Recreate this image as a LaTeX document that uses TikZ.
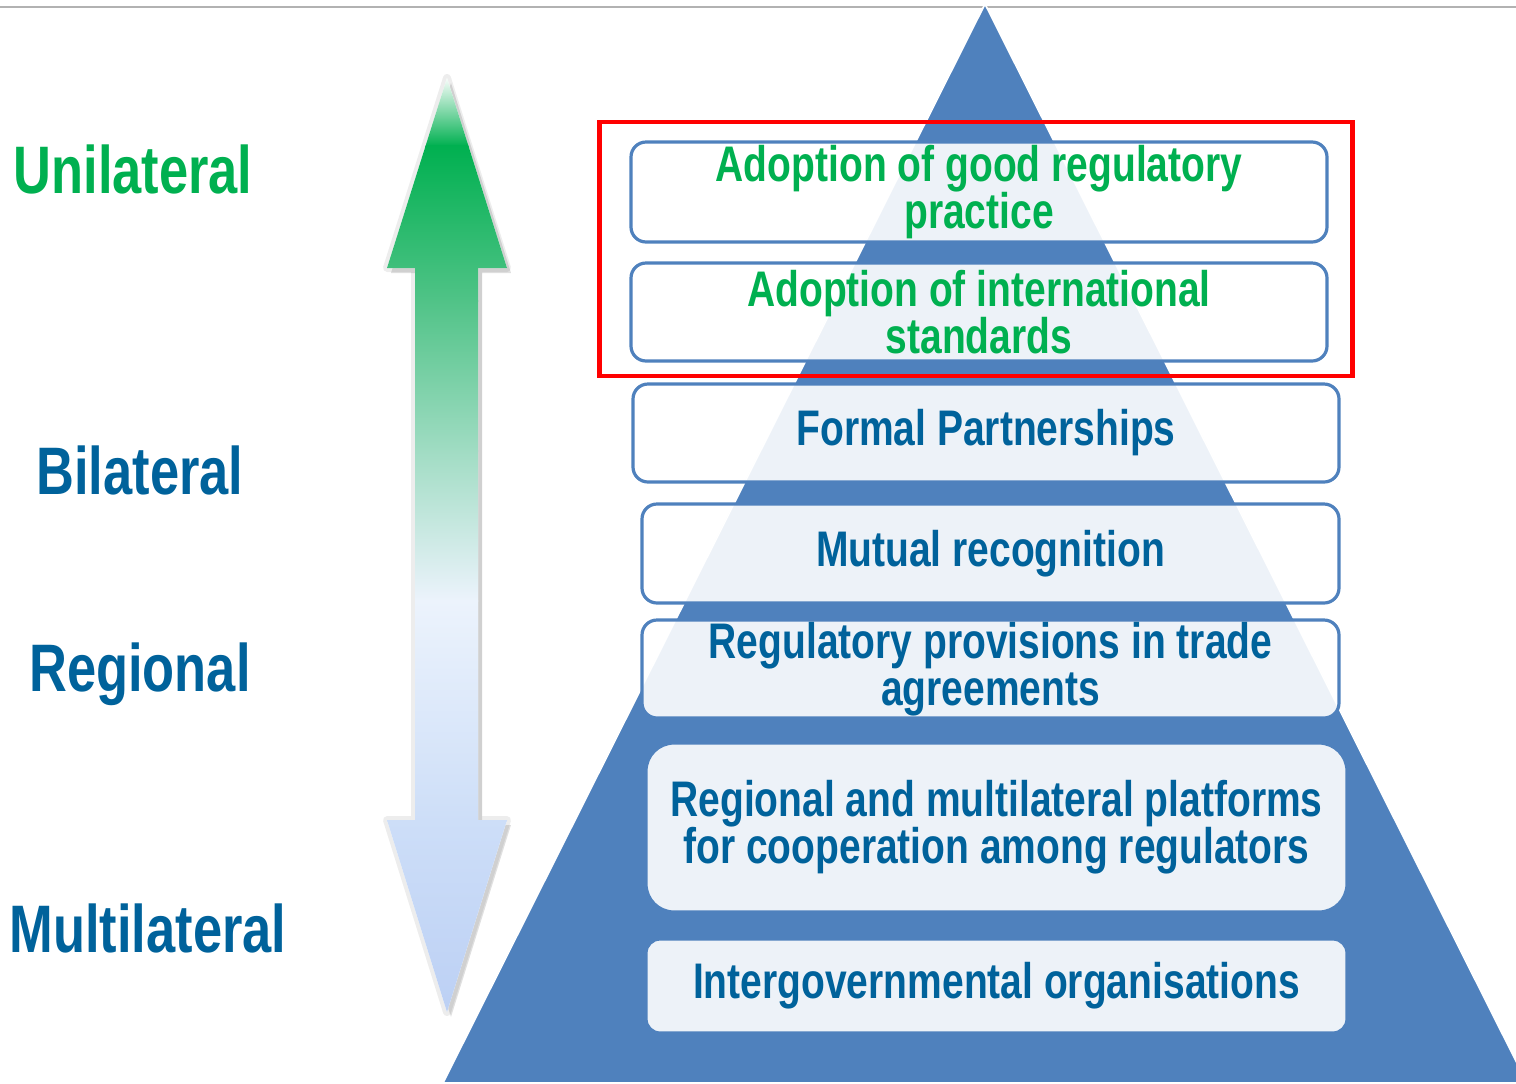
\documentclass[tikz,border=0pt]{standalone}
\usepackage{xcolor}
\usepackage{fontspec}
\usepackage{tikz}
\newfontfamily\narrowsans{Liberation Sans}[FakeStretch=0.78]

\definecolor{pyrblue}{RGB}{79,129,189}
\definecolor{tierblue}{RGB}{0,98,155}
\definecolor{unigreen}{RGB}{0,176,80}
\definecolor{fadegreen}{RGB}{80,195,135}
\definecolor{palegreen}{RGB}{160,220,195}
\definecolor{haze}{RGB}{236,243,252}
\definecolor{skyblue}{RGB}{205,222,248}
\definecolor{tipblue}{RGB}{188,208,244}

% outline of the up/down arrow
\newcommand\arrowoutline{(447,78) -- (507,268) -- (478,268) -- (478,820) -- (507,820)
  -- (447,1012) -- (387,820) -- (415,820) -- (415,268) -- (387,268) -- cycle}

\begin{document}
\begin{tikzpicture}[x=0.5pt, y=-0.5pt,
    tier/.style={draw=pyrblue, line width=1.6pt, fill=white, fill opacity=0.9, text opacity=1,
      rounded corners=7.5pt, align=center, inner sep=0pt, text=tierblue,
      font=\narrowsans\bfseries\fontsize{25}{23.5}\selectfont},
    level/.style={anchor=base, font=\narrowsans\bfseries\fontsize{33.6}{36}\selectfont}]
  \useasboundingbox (0,0) rectangle (1516,1083);
  \clip (0,0) rectangle (1516,1083);

  % rule and pyramid
  \draw[gray!60, line width=1pt] (0,7) -- (1516,7);
  \filldraw[fill=pyrblue, draw=white, line width=0.8pt] (985,4) -- (1527,1083) -- (443,1083) -- cycle;

  % arrow with its shadow
  \draw[black!7, line width=4pt, line join=round] \arrowoutline;
  \fill[black, opacity=0.12, shift={(4,5)}] \arrowoutline;
  \begin{scope}
    \clip \arrowoutline;
    \fill[white] (380,70) rectangle (515,1020);
    \shade[top color=white, bottom color=unigreen] (380,76) rectangle (515,146);
    \shade[top color=unigreen, bottom color=fadegreen] (380,145) rectangle (515,301);
    \shade[top color=fadegreen, bottom color=palegreen] (380,300) rectangle (515,451);
    \shade[top color=palegreen, bottom color=haze] (380,450) rectangle (515,601);
    \shade[top color=haze, bottom color=skyblue] (380,600) rectangle (515,821);
    \shade[top color=skyblue, bottom color=tipblue] (380,820) rectangle (515,1014);
  \end{scope}

  % levels
  \node[level, text=unigreen] (u) at (133,193) {Unilateral};
  \node[level, text=tierblue] (b) at (140,494) {Bilateral};
  \node[level, text=tierblue] (r) at (140,691) {Regional};
  \node[level, text=tierblue] (m) at (148,952) {Multilateral};

  % selection frame
  \draw[red, line width=2.25pt] (599.5,122) rectangle (1352.5,376);

  % tiers
  \node[tier, text=unigreen, minimum width=348pt, minimum height=50pt] (1) at (979,192)
    {Adoption of good regulatory\\practice};
  \node[tier, text=unigreen, minimum width=348pt, minimum height=49pt] (2) at (979,312)
    {Adoption of international\\standards};
  \node[tier, minimum width=353pt, minimum height=49pt] (3) at (986,433) {Formal Partnerships};
  \node[tier, minimum width=348.5pt, minimum height=49.5pt] (4) at (990.5,553.5) {Mutual recognition};
  \node[tier, minimum width=348.5pt, minimum height=49pt] (5) at (990.5,669)
    {Regulatory provisions in trade\\agreements};
  \node[tier, rounded corners=14pt, minimum width=350.5pt, minimum height=84.5pt] (6) at (996.5,827.5)
    {Regional and multilateral platforms\\for cooperation among regulators};
  \node[tier, rounded corners=7pt, minimum width=350.5pt, minimum height=47pt] (7) at (996.5,986)
    {Intergovernmental organisations};
\end{tikzpicture}
\end{document}
